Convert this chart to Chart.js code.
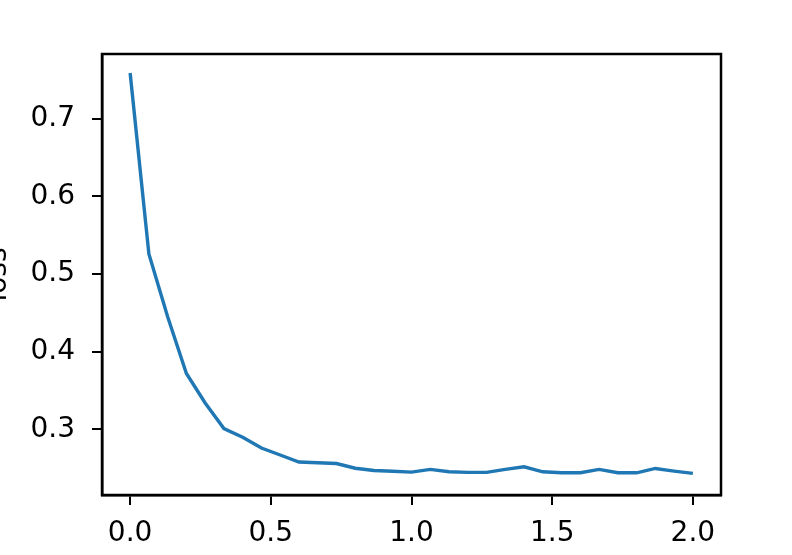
<!DOCTYPE html>
<html>
<head>
<meta charset="utf-8">
<script src="https://cdn.jsdelivr.net/npm/chart.js@4"></script>
<style>
  html, body { margin: 0; padding: 0; background: #fff; overflow: hidden; }
  #wrap { position: absolute; left: -40px; top: 0; width: 832px; height: 555px; }
</style>
</head>
<body>
<div id="wrap"><canvas id="myChart" width="832" height="555"></canvas></div>
<script>
// Datos
var epochs = [0, 1/15, 2/15, 3/15, 4/15, 5/15, 6/15, 7/15, 8/15, 9/15, 10/15,
  11/15, 12/15, 13/15, 14/15, 1, 16/15, 17/15, 18/15, 19/15, 20/15, 21/15,
  22/15, 23/15, 24/15, 25/15, 26/15, 27/15, 28/15, 29/15, 2];
var loss = [0.759, 0.526, 0.445, 0.372, 0.334, 0.301, 0.290, 0.276, 0.267, 0.258,
  0.257, 0.256, 0.250, 0.247, 0.246, 0.245, 0.2485, 0.2455, 0.2446, 0.2446,
  0.2485, 0.2518, 0.2454, 0.2441, 0.2441, 0.2485, 0.2441, 0.2441, 0.2497,
  0.2463, 0.2433];
var xTicks = [0, 0.5, 1, 1.5, 2];
var yTicks = [0.3, 0.4, 0.5, 0.6, 0.7];

var font = { family: 'DejaVu Sans', size: 28 };

// marco alrededor del área del gráfico
var frame = {
  id: 'frame',
  afterDraw: function (chart) {
    var a = chart.chartArea, c = chart.ctx;
    c.save();
    c.strokeStyle = '#000';
    c.lineWidth = 2.5;
    c.strokeRect(a.left, a.top, a.right - a.left, a.bottom - a.top);
    c.restore();
  }
};

var data = {
  datasets: [{
    label: 'loss',
    data: epochs.map(function (x, i) { return { x: x, y: loss[i] }; }),
    borderColor: '#1f77b4',
    borderWidth: 3.4,
    pointRadius: 0,
    tension: 0,
    fill: false
  }]
};

var options = {
  responsive: false,
  animation: false,
  devicePixelRatio: 1,
  layout: { padding: { left: 0, right: 71, top: 54, bottom: 0 } },
  plugins: { legend: { display: false }, tooltip: { enabled: false } },
  scales: {
    x: {
      type: 'linear',
      min: -0.1,
      max: 2.1,
      afterBuildTicks: function (s) { s.ticks = xTicks.map(function (v) { return { value: v }; }); },
      afterFit: function (s) { s.height = 60; },
      ticks: { font: font, color: '#000', padding: 12, maxRotation: 0,
        callback: function (v) { return v.toFixed(1); } },
      grid: { drawOnChartArea: false, drawTicks: true, tickLength: 10, color: '#000', lineWidth: 2 },
      border: { display: true, color: '#000', width: 2.5 }
    },
    y: {
      min: 0.2155,
      max: 0.7835,
      afterBuildTicks: function (s) { s.ticks = yTicks.map(function (v) { return { value: v }; }); },
      afterFit: function (s) { s.width = 142; },
      ticks: { font: font, color: '#000', padding: 17,
        callback: function (v) { return v.toFixed(1); } },
      grid: { drawOnChartArea: false, drawTicks: true, tickLength: 10, color: '#000', lineWidth: 2 },
      border: { display: true, color: '#000', width: 2.5 },
      title: { display: true, text: 'loss', font: font, color: '#000', padding: { top: 22, bottom: 0 } }
    }
  }
};

var ctx = document.getElementById('myChart').getContext('2d');
var myChart = new Chart(ctx, {
  type: 'line',
  data: data,
  options: options,
  plugins: [frame]
});
</script>
</body>
</html>
